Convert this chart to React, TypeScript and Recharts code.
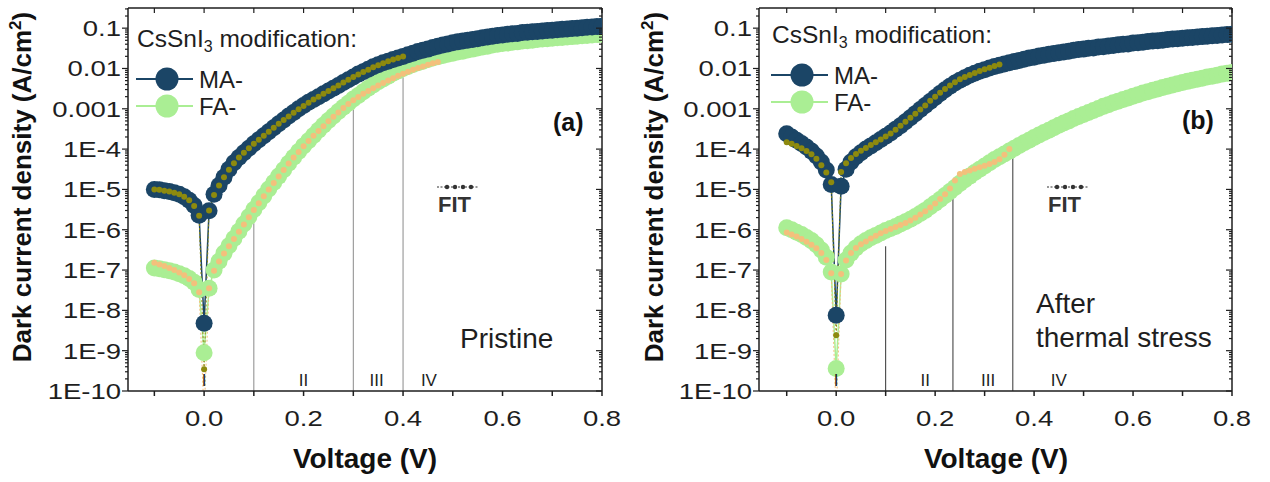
import React from 'react';
import { ComposedChart, Line, XAxis, YAxis, ReferenceLine, ReferenceDot } from 'recharts';

const FONT = '"Liberation Sans", Arial, Helvetica, sans-serif';
const INK = '#1e1e1e';
const NAVY = '#1b4566';
const GREEN = '#aaee94';
const OLIVE = '#8d8a0e';
const PEACH = '#f3c07c';

// bias sweep: -0.10 V to 0.80 V in 10 mV steps
const SWEEP_START = -0.1;
const SWEEP_STEP = 0.01;

// log10 of dark current density (A/cm²), one value per sweep step
const pristineMA = [
  -5.0, -5.01, -5.03, -5.05, -5.08, -5.12, -5.18, -5.27, -5.4, -5.64,
  -8.32,
  -5.53, -5.12, -4.9, -4.7, -4.5, -4.34, -4.21, -4.09, -3.98, -3.87,
  -3.77, -3.67, -3.57, -3.47, -3.37, -3.28, -3.18, -3.09, -3.0, -2.92,
  -2.84, -2.77, -2.7, -2.63, -2.56, -2.49, -2.42, -2.35, -2.28, -2.21,
  -2.14, -2.08, -2.02, -1.96, -1.91, -1.86, -1.82, -1.78, -1.74, -1.7,
  -1.66, -1.62, -1.58, -1.55, -1.52, -1.48, -1.45, -1.42, -1.39, -1.36,
  -1.34, -1.32, -1.3, -1.28, -1.26, -1.24, -1.22, -1.2, -1.18, -1.17,
  -1.15, -1.14, -1.13, -1.11, -1.1, -1.09, -1.08, -1.07, -1.06, -1.05,
  -1.04, -1.03, -1.02, -1.01, -1.0, -0.99, -0.98, -0.97, -0.96, -0.95,
];
const pristineFA = [
  -6.95, -6.97, -6.99, -7.02, -7.05, -7.09, -7.14, -7.21, -7.3, -7.48,
  -9.05,
  -7.45, -7.0, -6.78, -6.58, -6.4, -6.22, -6.04, -5.86, -5.68, -5.5,
  -5.33, -5.16, -4.99, -4.83, -4.67, -4.51, -4.35, -4.2, -4.06, -3.92,
  -3.79, -3.66, -3.53, -3.41, -3.29, -3.18, -3.07, -2.96, -2.86, -2.76,
  -2.67, -2.58, -2.49, -2.41, -2.33, -2.26, -2.19, -2.12, -2.06, -2.0,
  -1.95, -1.9, -1.86, -1.82, -1.78, -1.74, -1.71, -1.68, -1.65, -1.62,
  -1.59, -1.57, -1.54, -1.52, -1.49, -1.47, -1.45, -1.42, -1.4, -1.38,
  -1.37, -1.35, -1.34, -1.32, -1.31, -1.3, -1.28, -1.27, -1.26, -1.25,
  -1.24, -1.23, -1.22, -1.21, -1.2, -1.19, -1.18, -1.17, -1.16, -1.15,
];
const pristineMAFit = [
  -5.0, -5.01, -5.03, -5.05, -5.08, -5.12, -5.18, -5.27, -5.41, -5.65,
  -9.46,
  -5.52, -5.14, -4.9, -4.7, -4.51, -4.35, -4.21, -4.09, -3.98, -3.87,
  -3.77, -3.67, -3.57, -3.47, -3.37, -3.28, -3.19, -3.1, -3.01, -2.93,
  -2.85, -2.77, -2.7, -2.63, -2.56, -2.49, -2.42, -2.35, -2.28, -2.21,
  -2.15, -2.09, -2.03, -1.97, -1.92, -1.87, -1.82, -1.78, -1.74, -1.7,
];
const pristineFAFit = [
  -6.82, -6.86, -6.9, -6.95, -7.0, -7.06, -7.13, -7.22, -7.33, -7.55,
  -10.6,
  -7.45, -7.02, -6.79, -6.59, -6.41, -6.23, -6.05, -5.87, -5.69, -5.51,
  -5.34, -5.17, -5.0, -4.84, -4.68, -4.52, -4.36, -4.21, -4.07, -3.93,
  -3.8, -3.67, -3.55, -3.43, -3.31, -3.2, -3.09, -2.98, -2.88, -2.79,
  -2.71, -2.63, -2.56, -2.49, -2.42, -2.36, -2.3, -2.24, -2.18, -2.13,
  -2.08, -2.03, -1.99, -1.95, -1.91, -1.87, -1.84,
];

const stressedMA = [
  -3.62, -3.7, -3.78, -3.86, -3.95, -4.05, -4.17, -4.32, -4.52, -4.88,
  -8.12,
  -4.92, -4.5, -4.32, -4.19, -4.09, -4.0, -3.92, -3.84, -3.76, -3.68,
  -3.6, -3.51, -3.42, -3.32, -3.22, -3.12, -3.02, -2.92, -2.82, -2.72,
  -2.62, -2.53, -2.44, -2.36, -2.29, -2.23, -2.17, -2.12, -2.07, -2.03,
  -1.99, -1.95, -1.92, -1.89, -1.86, -1.83, -1.8, -1.77, -1.74, -1.72,
  -1.69, -1.67, -1.65, -1.63, -1.61, -1.59, -1.57, -1.55, -1.53, -1.52,
  -1.5, -1.49, -1.47, -1.46, -1.44, -1.43, -1.41, -1.4, -1.39, -1.37,
  -1.36, -1.35, -1.33, -1.32, -1.31, -1.3, -1.28, -1.27, -1.26, -1.25,
  -1.24, -1.23, -1.22, -1.21, -1.2, -1.19, -1.18, -1.17, -1.16, -1.15,
];
const stressedFA = [
  -5.95, -6.0, -6.06, -6.12, -6.19, -6.27, -6.37, -6.5, -6.68, -7.05,
  -9.44,
  -7.1, -6.75, -6.58, -6.45, -6.35, -6.27, -6.2, -6.14, -6.08, -6.02,
  -5.97, -5.92, -5.86, -5.8, -5.74, -5.67, -5.6, -5.52, -5.43, -5.34,
  -5.25, -5.15, -5.05, -4.95, -4.85, -4.76, -4.67, -4.58, -4.5, -4.42,
  -4.34, -4.26, -4.19, -4.12, -4.05, -3.98, -3.91, -3.84, -3.78, -3.71,
  -3.65, -3.59, -3.53, -3.47, -3.41, -3.35, -3.3, -3.24, -3.19, -3.14,
  -3.09, -3.04, -2.99, -2.94, -2.9, -2.85, -2.81, -2.77, -2.73, -2.69,
  -2.65, -2.61, -2.58, -2.54, -2.51, -2.47, -2.44, -2.41, -2.38, -2.35,
  -2.32, -2.29, -2.27, -2.24, -2.21, -2.19, -2.17, -2.14, -2.12, -2.1,
];
const stressedMAFit = [
  -3.83, -3.87, -3.92, -3.98, -4.05, -4.13, -4.24, -4.4, -4.58, -4.82,
  -8.62,
  -4.57, -4.35, -4.22, -4.12, -4.04, -3.97, -3.9, -3.83, -3.76, -3.69,
  -3.61, -3.52, -3.42, -3.32, -3.22, -3.12, -3.02, -2.92, -2.8, -2.7,
  -2.6, -2.51, -2.42, -2.34, -2.27, -2.21, -2.16, -2.11, -2.06, -2.02,
  -1.98, -1.94, -1.9,
];
const stressedFAFit = [
  -6.07, -6.12, -6.17, -6.23, -6.3, -6.37, -6.46, -6.58, -6.75, -7.08,
  -10.6,
  -7.1, -6.76, -6.58, -6.45, -6.36, -6.29, -6.22, -6.15, -6.09, -6.03,
  -5.98, -5.93, -5.88, -5.83, -5.77, -5.7, -5.62, -5.54, -5.45, -5.35,
  -5.24, -5.12, -4.98, -4.78, -4.62, -4.57, -4.53, -4.49, -4.45, -4.41,
  -4.37, -4.32, -4.25, -4.14, -4.0,
];

// transport regime boundaries (V) and where each marker line stops (log10 J)
const pristineBounds = [0.1, 0.3, 0.4];
const pristineBoundTops = [-5.84, -3.03, -2.22];
const stressedBounds = [0.1, 0.236, 0.357];
const stressedBoundTops = [-6.41, -5.19, -4.2];
const regionNames = ['I', 'II', 'III', 'IV'];
const pristineRegionAt = [0, 0.2, 0.347, 0.452];
const stressedRegionAt = [0, 0.18, 0.307, 0.45];

const xTicks = [-0.1, 0, 0.1, 0.2, 0.3, 0.4, 0.5, 0.6, 0.7, 0.8];
const xTickLabels = ['0.0', '0.2', '0.4', '0.6', '0.8'];
const decadeLabels = ['1E-10', '1E-9', '1E-8', '1E-7', '1E-6', '1E-5', '1E-4', '0.001', '0.01', '0.1'];

const Y_MIN = 1e-10;
const Y_MAX = 10 ** -0.5;
const REGION_LABEL_Y = 10 ** -9.72;

const yTicks: number[] = [];
for (let k = -10; k <= -1; k++) {
  for (let m = 1; m <= 9; m++) {
    const t = m * 10 ** k;
    if (t <= Y_MAX) yTicks.push(t);
  }
}

type Row = { v: number; ma: number; fa: number; maFit: number | null; faFit: number | null };

const buildRows = (ma: number[], fa: number[], maFit: number[], faFit: number[]): Row[] =>
  ma.map((m, i) => ({
    v: Math.round((SWEEP_START + i * SWEEP_STEP) * 100) / 100,
    ma: 10 ** m,
    fa: 10 ** fa[i],
    maFit: i < maFit.length ? 10 ** maFit[i] : null,
    faFit: i < faFit.length ? 10 ** faFit[i] : null,
  }));

const pristineRows = buildRows(pristineMA, pristineFA, pristineMAFit, pristineFAFit);
const stressedRows = buildRows(stressedMA, stressedFA, stressedMAFit, stressedFAFit);

const isDecade = (v: number) => {
  const e = Math.log10(v);
  return Math.abs(e - Math.round(e)) < 1e-6;
};

// tick numerals are set wide in this figure
const TICK_FONT = 22;
const TICK_SCALE = 1.25;

const BottomTick = (props: any) => {
  const { x, y, payload } = props;
  const label = Number(payload.value).toFixed(1);
  return (
    <g>
      <line x1={x} x2={x} y1={y} y2={y + 5} stroke={INK} strokeWidth={1.5} />
      {xTickLabels.includes(label) && (
        <text
          transform={`translate(${x},${y + 35}) scale(${TICK_SCALE},1)`}
          textAnchor="middle"
          fontSize={TICK_FONT}
          fontFamily={FONT}
          fill={INK}
        >
          {label}
        </text>
      )}
    </g>
  );
};

const TopTick = (props: any) => {
  const { x, y } = props;
  return <line x1={x} x2={x} y1={y} y2={y + 5} stroke={INK} strokeWidth={1.2} />;
};

const LeftTick = (props: any) => {
  const { x, y, payload } = props;
  const major = isDecade(payload.value);
  const e = Math.round(Math.log10(payload.value));
  return (
    <g>
      <line x1={x - (major ? 6 : 3)} x2={x} y1={y} y2={y} stroke={INK} strokeWidth={1.2} />
      {major && (
        <text
          transform={`translate(${x - 7},${y}) scale(${TICK_SCALE},1)`}
          textAnchor="end"
          dy="0.36em"
          fontSize={TICK_FONT}
          fontFamily={FONT}
          fill={INK}
        >
          {decadeLabels[e + 10]}
        </text>
      )}
    </g>
  );
};

const RightTick = (props: any) => {
  const { x, y, payload } = props;
  const major = isDecade(payload.value);
  return <line x1={x - (major ? 6 : 3)} x2={x} y1={y} y2={y} stroke={INK} strokeWidth={1.2} />;
};

type PanelProps = {
  rows: Row[];
  width: number;
  left: number;
  xMin: number;
  bounds: number[];
  boundTops: number[];
  boundColor: string;
  regionAt: number[];
};

function Panel({ rows, width, left, xMin, bounds, boundTops, boundColor, regionAt }: PanelProps) {
  const axisLine = { stroke: INK, strokeWidth: 1.5 };
  return (
    <ComposedChart width={width} height={482} data={rows} margin={{ top: 3, right: 28, bottom: 61, left }}>
      <XAxis
        dataKey="v"
        type="number"
        domain={[xMin, 0.8]}
        allowDataOverflow
        ticks={xTicks}
        interval={0}
        height={30}
        tickSize={0}
        tickMargin={0}
        tickLine={false}
        axisLine={axisLine}
        tick={<BottomTick />}
      />
      <XAxis
        xAxisId="t"
        orientation="top"
        dataKey="v"
        type="number"
        domain={[xMin, 0.8]}
        allowDataOverflow
        ticks={xTicks}
        interval={0}
        height={5}
        tickSize={0}
        tickMargin={0}
        tickLine={false}
        axisLine={axisLine}
        tick={<TopTick />}
      />
      <YAxis
        type="number"
        scale="log"
        domain={[Y_MIN, Y_MAX]}
        allowDataOverflow
        ticks={yTicks}
        interval={0}
        width={60}
        tickSize={0}
        tickMargin={0}
        tickLine={false}
        axisLine={axisLine}
        tick={<LeftTick />}
      />
      <YAxis
        yAxisId="r"
        orientation="right"
        type="number"
        scale="log"
        domain={[Y_MIN, Y_MAX]}
        allowDataOverflow
        ticks={yTicks}
        interval={0}
        width={10}
        tickSize={0}
        tickMargin={0}
        tickLine={false}
        axisLine={axisLine}
        tick={<RightTick />}
      />

      {bounds.map((b, i) => (
        <ReferenceLine
          key={`b${i}`}
          segment={[
            { x: b, y: Y_MIN },
            { x: b, y: 10 ** boundTops[i] },
          ]}
          stroke={boundColor}
          strokeWidth={1}
        />
      ))}
      {regionAt.map((v, i) => (
        <ReferenceDot
          key={`r${i}`}
          x={v}
          y={REGION_LABEL_Y}
          r={0}
          fill="none"
          stroke="none"
          label={{ value: regionNames[i], position: 'center', fill: INK, fontSize: 17, fontFamily: FONT }}
        />
      ))}

      {/* keeps the mirrored top/right axes bound to the same scales */}
      <Line xAxisId="t" yAxisId="r" dataKey="ma" stroke="none" dot={false} activeDot={false} isAnimationActive={false} />

      <Line
        dataKey="fa"
        type="linear"
        stroke={GREEN}
        strokeWidth={1.5}
        dot={{ r: 8.5, fill: GREEN, stroke: 'none', strokeWidth: 0 }}
        activeDot={false}
        isAnimationActive={false}
      />
      <Line
        dataKey="ma"
        type="linear"
        stroke={NAVY}
        strokeWidth={1.5}
        dot={{ r: 8.5, fill: NAVY, stroke: 'none', strokeWidth: 0 }}
        activeDot={false}
        isAnimationActive={false}
      />
      <Line
        dataKey="faFit"
        type="linear"
        stroke={PEACH}
        strokeWidth={1}
        strokeDasharray="2 2"
        dot={{ r: 3, fill: PEACH, stroke: 'none', strokeWidth: 0 }}
        activeDot={false}
        isAnimationActive={false}
      />
      <Line
        dataKey="maFit"
        type="linear"
        stroke={OLIVE}
        strokeWidth={1}
        strokeDasharray="2 2"
        dot={{ r: 3, fill: OLIVE, stroke: 'none', strokeWidth: 0 }}
        activeDot={false}
        isAnimationActive={false}
      />
    </ComposedChart>
  );
}

function SeriesLegend({ dx, dy }: { dx: number; dy: number }) {
  return (
    <g fontFamily={FONT} fill={INK}>
      <text x={137 + dx} y={47 + dy} fontSize={24.5}>
        CsSnI
        <tspan dy={5} fontSize={16}>3</tspan>
        <tspan dy={-5}> modification:</tspan>
      </text>
      <line x1={136 + dx} x2={193 + dx} y1={79 + dy} y2={79 + dy} stroke={NAVY} strokeWidth={2} />
      <circle cx={167 + dx} cy={79 + dy} r={11.5} fill={NAVY} />
      <text x={199 + dx} y={88 + dy} fontSize={24}>MA-</text>
      <line x1={136 + dx} x2={193 + dx} y1={106 + dy} y2={106 + dy} stroke={GREEN} strokeWidth={2} />
      <circle cx={167 + dx} cy={106 + dy} r={11.5} fill={GREEN} />
      <text x={199 + dx} y={115 + dy} fontSize={24}>FA-</text>
    </g>
  );
}

function FitKey({ x }: { x: number }) {
  const dots = [10, 18, 26, 34];
  return (
    <g fontFamily={FONT}>
      <line x1={x} x2={x + 41} y1={187} y2={187} stroke="#333" strokeWidth={1} strokeDasharray="2 1.5" />
      {dots.map((d) => (
        <circle key={d} cx={x + d} cy={187} r={2.2} fill="#333" />
      ))}
      <text x={x + 1} y={212} fontSize={22} fontWeight="bold" fill="#333">FIT</text>
    </g>
  );
}

export default function App() {
  return (
    <div style={{ position: 'absolute', left: 0, top: 0, width: 1270, height: 482, background: '#fff', fontFamily: FONT }}>
      <div style={{ position: 'absolute', left: 0, top: 0 }}>
        <Panel
          rows={pristineRows}
          width={640}
          left={68}
          xMin={-0.153}
          bounds={pristineBounds}
          boundTops={pristineBoundTops}
          boundColor="#8a8a8a"
          regionAt={pristineRegionAt}
        />
      </div>
      <div style={{ position: 'absolute', left: 640, top: 0 }}>
        <Panel
          rows={stressedRows}
          width={630}
          left={59}
          xMin={-0.156}
          bounds={stressedBounds}
          boundTops={stressedBoundTops}
          boundColor="#333"
          regionAt={stressedRegionAt}
        />
      </div>
      <svg width={1270} height={482} style={{ position: 'absolute', left: 0, top: 0, pointerEvents: 'none' }}>
        <g fontFamily={FONT} fontWeight="bold" fill="#111">
          <text transform="translate(31,187) rotate(-90)" textAnchor="middle" fontSize={26}>
            Dark current density (A/cm<tspan dy={-10} fontSize={17}>2</tspan>
            <tspan dy={10}>)</tspan>
          </text>
          <text transform="translate(663,187) rotate(-90)" textAnchor="middle" fontSize={26}>
            Dark current density (A/cm<tspan dy={-10} fontSize={17}>2</tspan>
            <tspan dy={10}>)</tspan>
          </text>
          <text x={365} y={468} textAnchor="middle" fontSize={28}>Voltage (V)</text>
          <text x={996} y={468} textAnchor="middle" fontSize={28}>Voltage (V)</text>
          <text x={553} y={131} fontSize={25}>(a)</text>
          <text x={1182} y={129} fontSize={25}>(b)</text>
        </g>
        <SeriesLegend dx={0} dy={0} />
        <SeriesLegend dx={635} dy={-4} />
        <FitKey x={437} />
        <FitKey x={1047} />
        <g fontFamily={FONT} fill={INK} fontSize={28}>
          <text x={460} y={348}>Pristine</text>
          <text x={1036} y={313}>After</text>
          <text x={1036} y={347}>thermal stress</text>
        </g>
      </svg>
    </div>
  );
}
